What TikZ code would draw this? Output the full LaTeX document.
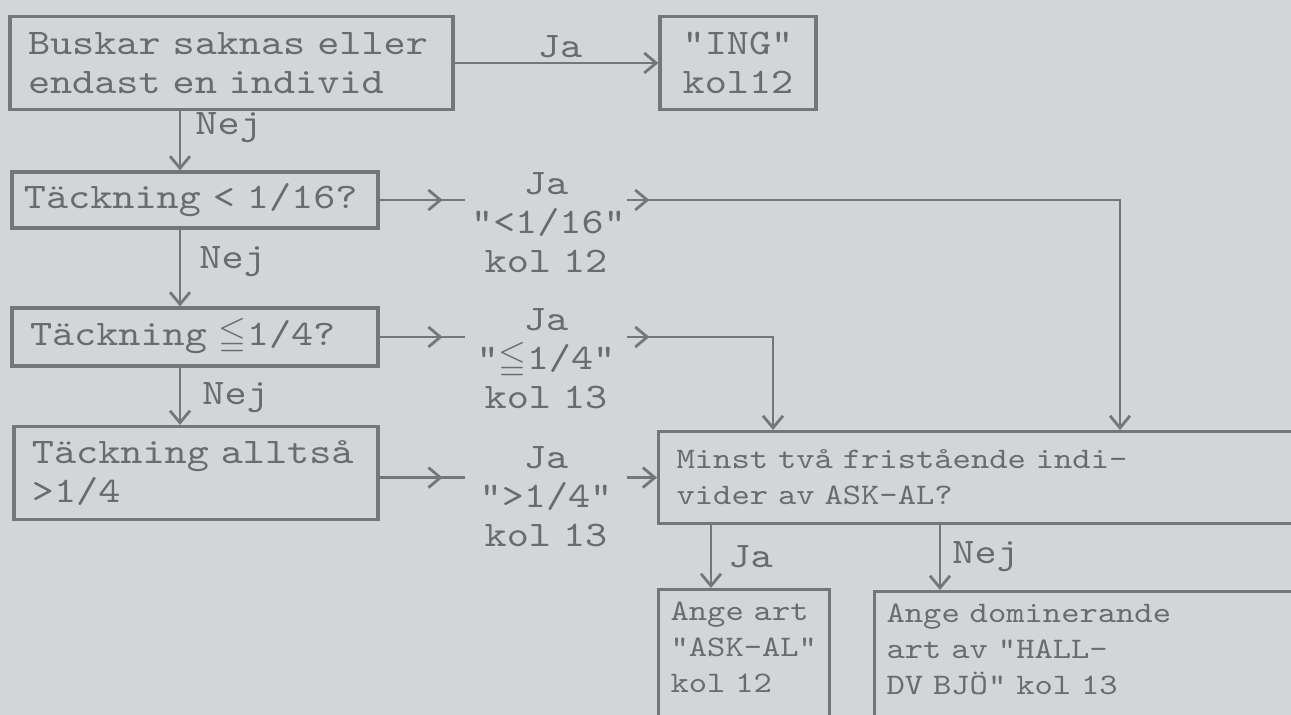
\documentclass[tikz,border=0pt]{standalone}
\usepackage{amsmath,amssymb}
\usepackage{fontspec}
\usepackage{tikz}
\usetikzlibrary{arrows.meta,positioning,decorations.markings}
\newfontfamily\typew{lmmono10-regular.otf}[FakeStretch=1.17]
\newcommand\bigtw{\typew\fontsize{18pt}{19.5pt}\selectfont}
\newcommand\smalltw{\typew\fontsize{14.9pt}{18pt}\selectfont}
\definecolor{paper}{HTML}{D4D5D7}
\definecolor{ink}{HTML}{6A6B6F}
\definecolor{linec}{HTML}{75767A}
\tikzset{
  ar/.style={-{Straight Barb[length=6pt,width=10pt]},line width=1.4pt,linec},
  ln/.style={line width=1.4pt,linec},
  tipat/.style={postaction={decorate},decoration={markings,mark=at position #1 with {\arrow{Straight Barb[length=6pt,width=10pt]}}}},
  box/.style={draw=linec,line width=1.6pt,align=left,inner xsep=9pt,inner ysep=3pt,text=ink,font=\bigtw},
  sbox/.style={box,font=\smalltw,inner ysep=6pt},
  lab/.style={text=ink,font=\bigtw,align=center,text width=75pt,inner xsep=3pt,inner ysep=0pt},
  tag/.style={text=ink,font=\bigtw,inner sep=1pt}
}
\begin{document}
\begin{tikzpicture}[x=0.5pt,y=-0.5pt]
\fill[paper] (0,0) rectangle (1291,715);
\useasboundingbox (0,0) rectangle (1291,715);
% left column
\node[box,text width=203.5pt,minimum height=46.5pt] (buskar) at (231.5,63) {Buskar saknas eller\\endast en individ};
\node[box,align=center,text width=60pt,minimum height=46.5pt] (ing) at (738,63) {"ING"\\kol12};
\node[box,inner xsep=6pt,text width=171pt,minimum height=28pt] (t16) at (195,200) {Täckning < 1/16?};
\node[box,text width=165pt,minimum height=29pt] (t4) at (195,337) {Täckning $\leqq$1/4?};
\node[box,text width=164pt,minimum height=46.5pt] (talltsa) at (196,473) {Täckning alltså\\>1/4};
% answers
\node[lab] (l16) at (546,223) {Ja\\"<1/16"\\kol 12};
\node[lab] (l4) at (546,359) {Ja\\"$\leqq$1/4"\\kol 13};
\node[lab] (lgt4) at (546,497) {Ja\\">1/4"\\kol 13};
% right part
\node[sbox,anchor=north west,text width=308.5pt,minimum height=46pt] (minst) at (657,430) {Minst två fristående indi-\\vider av ASK-AL?};
\node[sbox,anchor=north west,inner xsep=6pt,text width=73.5pt,text depth=60pt] (angeart) at (657,588) {Ange art\\"ASK-AL"\\kol 12};
\node[sbox,anchor=north west,inner xsep=6pt,text width=206.5pt,text depth=60pt] (angedom) at (873,590) {Ange dominerande\\art av "HALL-\\DV BJÖ" kol 13};
% columns of the connectors
\coordinate (lc) at (180,0);
\coordinate (c4) at (773,0);
\coordinate (c16) at (1120,0);
\coordinate (jc) at (711,0);
\coordinate (nc) at (940,0);
\draw[ar] (buskar) -- (ing);
\node[tag] (ja0) at (560,47) {Ja};
\draw[ar] (buskar.south -| lc) -- (t16.north -| lc);
\node[tag,anchor=west] (nej1) at (193,128) {Nej};
\draw[ar] (t16.south -| lc) -- (t4.north -| lc);
\node[tag,anchor=west] (nej2) at (197,262) {Nej};
\draw[ar] (t4.south -| lc) -- (talltsa.north -| lc);
\node[tag,anchor=west] (nej3) at (200,398) {Nej};
\draw[ln,tipat=-11pt] (t16.east) -- (t16.east -| l16.west);
\draw[ln,tipat=-11pt] (t4.east) -- (t4.east -| l4.west);
\draw[ln,tipat=-11pt] (talltsa.east |- minst.west) -- (minst.west -| lgt4.west);
\draw[ar,tipat=11pt] (l16.east |- t16.east) -| (minst.north -| c16);
\draw[ar,tipat=11pt] (l4.east |- t4.east) -| (minst.north -| c4);
\draw[ar] (minst.west -| lgt4.east) -- (minst.west);
\draw[ar] (minst.south -| jc) -- (angeart.north -| jc);
\node[tag,anchor=west] (ja1) at (726,557) {Ja};
\draw[ar] (minst.south -| nc) -- (angedom.north -| nc);
\node[tag,anchor=west] (nej4) at (950,557) {Nej};
\end{tikzpicture}
\end{document}
